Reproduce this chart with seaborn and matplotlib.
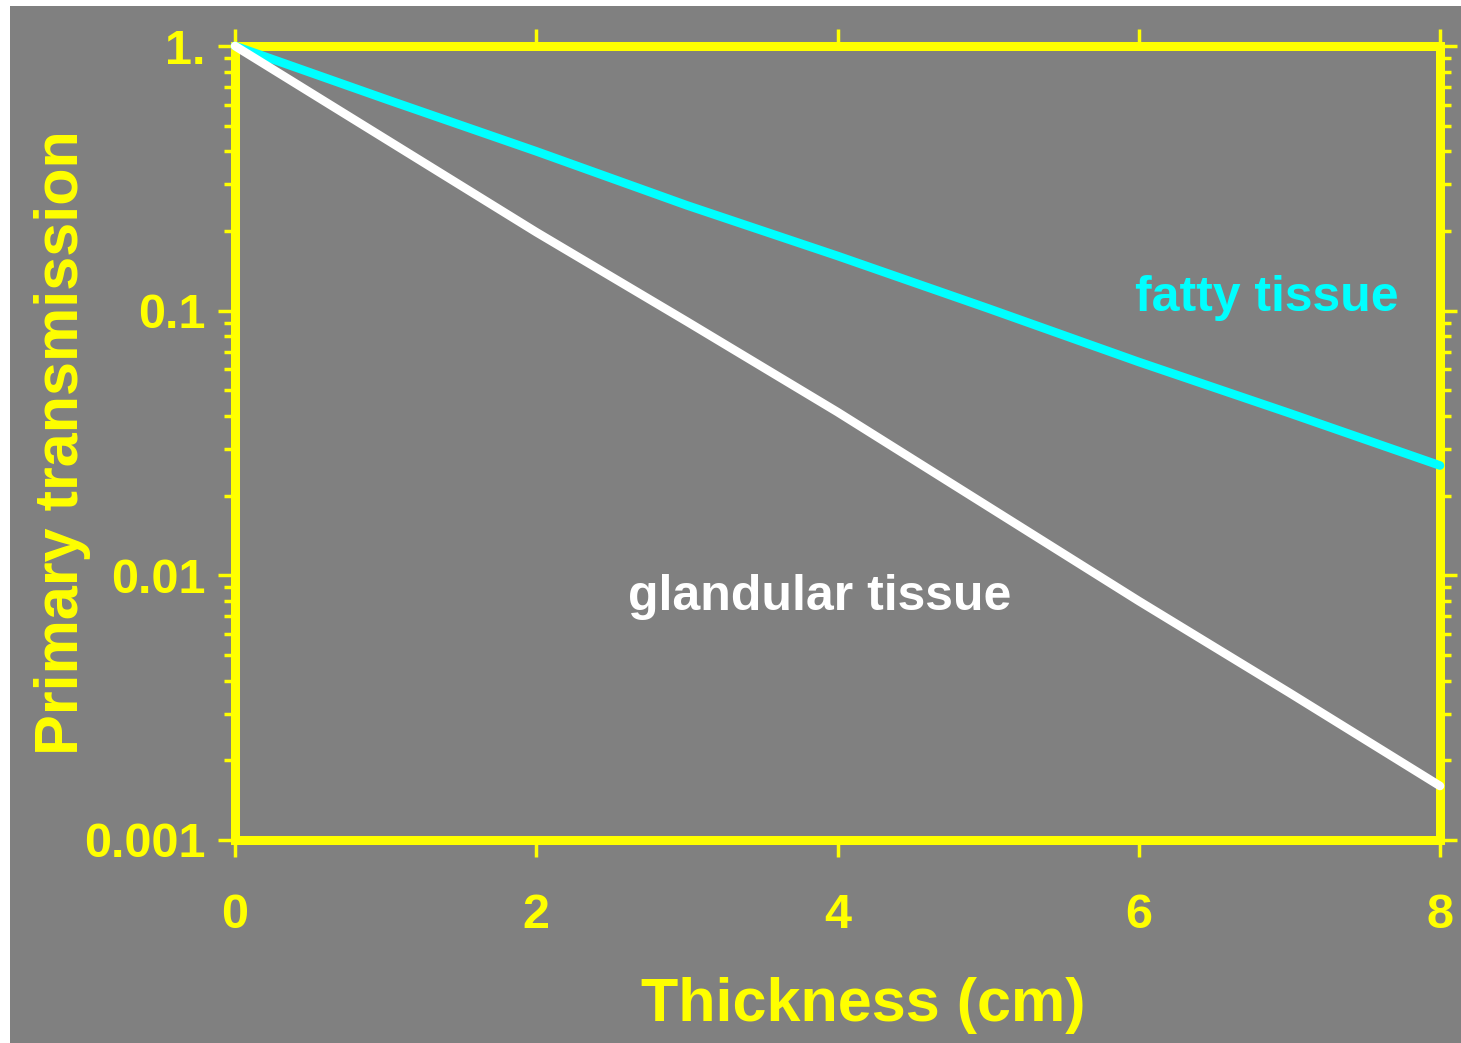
import numpy as np
import pandas as pd
import matplotlib
matplotlib.use("Agg")
import matplotlib.pyplot as plt
from matplotlib.ticker import LogLocator, FixedLocator, NullFormatter
import seaborn as sns

# Primary transmission through breast tissue vs. thickness
thickness_cm = [0, 1, 2, 3, 4, 5, 6, 7, 8]
fatty_tissue = [1.0, 0.63, 0.40, 0.25, 0.161, 0.102, 0.064, 0.041, 0.026]
glandular_tissue = [1.0, 0.445, 0.198, 0.091, 0.0414, 0.0182, 0.0080, 0.0036, 0.0016]

x_ticks = [0, 2, 4, 6, 8]
y_ticks = [1.0, 0.1, 0.01, 0.001]
y_tick_labels = ["1.", "0.1", "0.01", "0.001"]

BG = "#808080"
YELLOW = "#ffff00"
CYAN = "#00ffff"
WHITE = "#ffffff"

sns.set_style("ticks")
plt.rcParams["font.family"] = ["Liberation Sans", "DejaVu Sans"]
plt.rcParams["font.weight"] = "bold"

df = pd.DataFrame({
    "thickness": thickness_cm * 2,
    "transmission": fatty_tissue + glandular_tissue,
    "tissue": ["fatty"] * len(thickness_cm) + ["glandular"] * len(thickness_cm),
})

fig = plt.figure(figsize=(14.61, 10.43), dpi=100, facecolor="white")
# gray panel behind everything
fig.patches.append(plt.Rectangle((10 / 1461, 0), 1 - 10 / 1461, 1 - 6 / 1043,
                                 transform=fig.transFigure, facecolor=BG,
                                 edgecolor="none", zorder=-10))
ax = fig.add_axes([235 / 1461, 1 - 840 / 1043, (1440 - 235) / 1461, (840 - 46) / 1043])
ax.set_facecolor(BG)

sns.lineplot(data=df, x="thickness", y="transmission", hue="tissue",
             palette={"fatty": CYAN, "glandular": WHITE}, linewidth=6.2,
             legend=False, ax=ax, zorder=5)
for ln in ax.get_lines():
    ln.set_solid_capstyle("round")
    ln.set_clip_on(False)

ax.set_yscale("log")
ax.set_xlim(0, 8)
ax.set_ylim(0.001, 1.0)

ax.xaxis.set_major_locator(FixedLocator(x_ticks))
ax.set_xticklabels([str(t) for t in x_ticks])
ax.yaxis.set_major_locator(FixedLocator(y_ticks))
ax.set_yticklabels(y_tick_labels)
ax.yaxis.set_minor_locator(LogLocator(base=10, subs=np.arange(2, 10), numticks=20))
ax.yaxis.set_minor_formatter(NullFormatter())

for side in ["left", "right", "top", "bottom"]:
    ax.spines[side].set_visible(True)
    ax.spines[side].set_color(YELLOW)
    ax.spines[side].set_linewidth(6.5)
    ax.spines[side].set_zorder(3)

ax.tick_params(axis="both", which="both", direction="out", colors=YELLOW,
               top=True, right=True, bottom=True, left=True,
               labeltop=False, labelright=False)
ax.tick_params(axis="both", which="major", length=12, width=2.5, labelsize=35)
ax.tick_params(axis="y", which="minor", length=8, width=2.5)
ax.tick_params(axis="y", which="major", pad=9)
ax.tick_params(axis="x", which="major", pad=26)
for lbl in ax.get_xticklabels() + ax.get_yticklabels():
    lbl.set_fontweight("bold")
    lbl.set_color(YELLOW)

ax.set_xlabel("Thickness (cm)", fontsize=44, fontweight="bold", color=YELLOW)
ax.set_ylabel("Primary transmission", fontsize=44, fontweight="bold", color=YELLOW)
ax.xaxis.set_label_coords(0.521, -0.208)
ax.yaxis.set_label_coords(-0.143, 0.5)
ax.xaxis.label.set_va("center")
ax.yaxis.label.set_va("center")

ax.text(6.85, 0.112, "fatty tissue", color=CYAN, fontsize=36, fontweight="bold",
        ha="center", va="center")
ax.text(3.88, 0.0083, "glandular tissue", color=WHITE, fontsize=36, fontweight="bold",
        ha="center", va="center")

fig.savefig("out.png", dpi=100, facecolor=fig.get_facecolor())
